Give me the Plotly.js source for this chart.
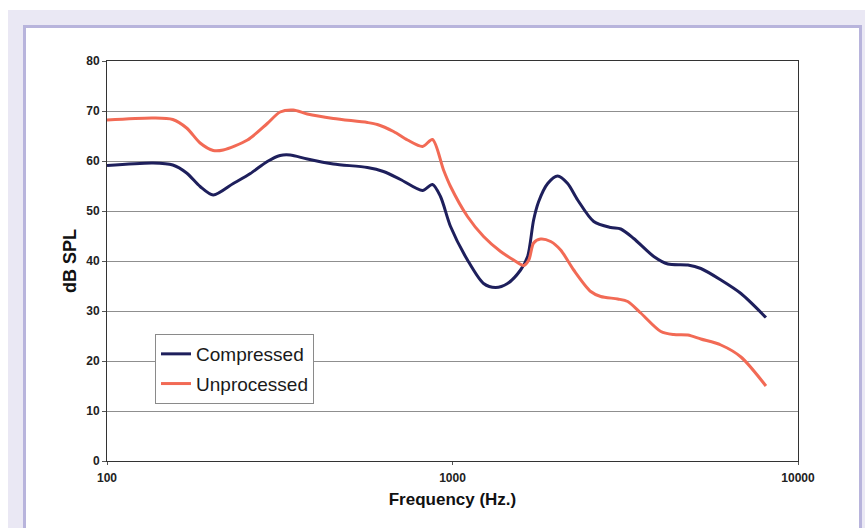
<!DOCTYPE html>
<html>
<head>
<meta charset="utf-8">
<script src="https://cdn.plot.ly/plotly-3.0.1.min.js"></script>
<style>
  html, body { margin: 0; padding: 0; background: #ffffff; width: 865px; height: 528px; overflow: hidden; }
  #bg { position: absolute; left: 8px; top: 10px; width: 857px; height: 518px; background: #eae8f4; }
  #panel { position: absolute; left: 23px; top: 25px; width: 833px; height: 520px; background: #ffffff; border: 3px solid #b8b4dc; }
  #chart { position: absolute; left: 0; top: 0; width: 865px; height: 528px; }
</style>
</head>
<body>
<div id="bg"></div>
<div id="panel"></div>
<div id="chart"></div>
<script>
// Frequencies (Hz) and levels (dB SPL)
const compressedFreq = [100, 136, 155, 170, 186, 203, 232, 260, 291, 317, 339, 380, 452, 567, 631, 707, 819, 875, 923, 987, 1105, 1230, 1333, 1443, 1574, 1650, 1717, 1776, 1886, 2015, 2154, 2303, 2563, 2871, 3069, 3346, 3824, 4201, 4800, 5234, 5982, 6837, 8077];
const compressedDb   = [59.1, 59.6, 59.2, 57.6, 54.9, 53.2, 55.5, 57.5, 59.9, 61.1, 61.2, 60.4, 59.4, 58.7, 57.9, 56.3, 54.1, 55.3, 52.9, 46.9, 40.2, 35.5, 34.7, 35.5, 38.2, 40.9, 48.2, 51.9, 55.5, 57.0, 55.5, 52.2, 47.9, 46.7, 46.4, 44.5, 40.9, 39.4, 39.2, 38.5, 36.2, 33.5, 28.7];

const unprocessedFreq = [100, 136, 155, 170, 186, 203, 217, 255, 291, 317, 346, 380, 452, 567, 606, 675, 741, 819, 875, 942, 987, 1105, 1230, 1378, 1503, 1606, 1663, 1717, 1799, 1924, 2056, 2243, 2512, 2685, 3008, 3215, 3506, 4009, 4372, 4800, 5234, 5982, 6837, 8077];
const unprocessedDb   = [68.2, 68.6, 68.3, 66.6, 63.6, 62.1, 62.2, 64.2, 67.5, 69.8, 70.2, 69.4, 68.5, 67.7, 67.3, 65.9, 64.2, 62.9, 64.3, 58.2, 54.9, 48.9, 44.9, 41.9, 40.2, 39.1, 40.2, 43.6, 44.4, 43.9, 42.2, 38.2, 33.9, 32.9, 32.4, 31.9, 29.6, 25.9, 25.3, 25.2, 24.4, 23.2, 20.8, 15.0];

const seriesNames = ["Compressed", "Unprocessed"];
const xTickVals = [100, 1000, 10000];
const xTickText = ["100", "1000", "10000"];
const yTickVals = [0, 10, 20, 30, 40, 50, 60, 70, 80];

const FONT = "Liberation Sans, Arial, Helvetica, sans-serif";

const traces = [
  { x: compressedFreq, y: compressedDb, name: seriesNames[0], mode: "lines", legendgroup: "a",
    line: { color: "#1e1f5c", width: 3, shape: "spline", smoothing: 0.8 } },
  { x: unprocessedFreq, y: unprocessedDb, name: seriesNames[1], mode: "lines", legendgroup: "b",
    line: { color: "#f26a55", width: 3, shape: "spline", smoothing: 0.8 } }
];

const layout = {
  width: 865, height: 528,
  margin: { l: 107, r: 67, t: 61, b: 67 },
  paper_bgcolor: "rgba(0,0,0,0)",
  plot_bgcolor: "#ffffff",
  font: { family: FONT, color: "#222222" },
  showlegend: true,
  legend: {
    x: 0.0695, y: 0.3175, xanchor: "left", yanchor: "top",
    bgcolor: "#ffffff", bordercolor: "#8a8a8a", borderwidth: 1,
    font: { family: FONT, size: 19, color: "#1a1a1a" },
    traceorder: "grouped", tracegroupgap: 2
  },
  xaxis: {
    type: "log", range: [2, 4],
    tickvals: xTickVals, ticktext: xTickText,
    tickfont: { family: FONT, size: 12, weight: "bold", color: "#222222" },
    ticks: "outside", ticklen: 3, tickcolor: "#555555", ticklabelstandoff: 3,
    showgrid: false, zeroline: false,
    showline: true, linecolor: "#333333", linewidth: 1, mirror: true,
    title: { text: "Frequency (Hz.)", font: { family: FONT, size: 17, weight: "bold", color: "#111111" }, standoff: 8 }
  },
  yaxis: {
    range: [0, 80], tickvals: yTickVals,
    tickfont: { family: FONT, size: 12, weight: "bold", color: "#222222" },
    ticks: "outside", ticklen: 4, tickcolor: "#555555",
    showgrid: true, gridcolor: "#8f8f8f", gridwidth: 1, zeroline: false,
    showline: true, linecolor: "#333333", linewidth: 1, mirror: true,
    title: { text: "dB SPL", font: { family: FONT, size: 18, weight: "bold", color: "#111111" }, standoff: 4 }
  }
};

Plotly.newPlot("chart", traces, layout, { displayModeBar: false, staticPlot: true });
</script>
</body>
</html>
